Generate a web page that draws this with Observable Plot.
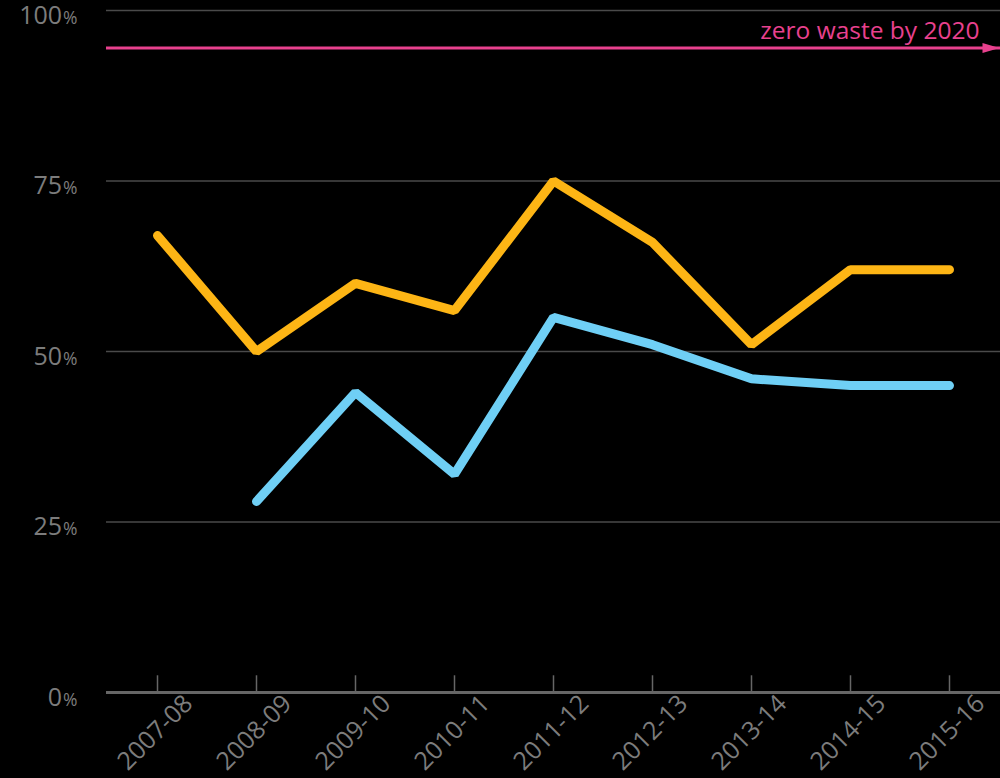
<!DOCTYPE html>
<html><head><meta charset="utf-8">
<script src="https://cdn.jsdelivr.net/npm/d3@7"></script>
<script src="https://cdn.jsdelivr.net/npm/@observablehq/plot@0.6"></script>
<style>
html,body{margin:0;padding:0;background:#000;}
#chart svg{display:block;}
</style>
</head><body><div id="chart"></div>
<script>
const years = ["2007-08","2008-09","2009-10","2010-11","2011-12","2012-13","2013-14","2014-15","2015-16"];
const orangeValues = [67,50,60,56,75,66,51,62,62];
const blueValues = [null,28,44,32,55,51,46,45,45];
const yTicks = [0,25,50,75,100];
const gridTicks = [25,50,75,100];
const targetValue = [94.5];
const targetLabel = "zero waste by 2020";

const orangeRows = years.map((year,i)=>({year, value: orangeValues[i]})).filter(d=>d.value!=null);
const blueRows = years.map((year,i)=>({year, value: blueValues[i]})).filter(d=>d.value!=null);

const arrowHead = {draw(ctx){ ctx.moveTo(-17,-5); ctx.lineTo(0,0); ctx.lineTo(-17,5); ctx.closePath(); }};

const gray = "#7c7c7c";
const pink = "#e8418e";

const chart = Plot.plot({
  width: 1000, height: 778,
  marginLeft: 106, marginRight: 0, marginTop: 10, marginBottom: 86,
  style: {background: "#000", fontFamily: "'Open Sans', 'Noto Sans', sans-serif", fontSize: "24px", color: gray},
  x: {type: "point", domain: years, padding: 0.5, axis: null},
  y: {domain: [0,100], label: null},
  marks: [
    Plot.ruleY(gridTicks, {stroke: "#4a4a4a", strokeWidth: 1.3}),
    Plot.ruleY([0], {stroke: "#666", strokeWidth: 3}),
    Plot.ruleX(years, {x: d=>d, y1: 0, y2: 2.45, stroke: "#666", strokeWidth: 1.5}),
    Plot.text(years, {x: d=>d, text: d=>d, frameAnchor: "bottom", rotate: -45, textAnchor: "end", lineAnchor: "middle", dx: 31, dy: 7, fill: gray, fontSize: 25}),
    Plot.axisY({ticks: yTicks, tickSize: 0, tickPadding: 29, tickFormat: d => d + "%", dy: 5, fill: gray, fontSize: 25, label: null}),
    Plot.ruleY(targetValue, {stroke: pink, strokeWidth: 3}),
    Plot.dot(targetValue, {y: d=>d, frameAnchor: "right", symbol: arrowHead, fill: pink, stroke: "none", dx: -1}),
    Plot.text(targetValue, {y: d=>d, text: () => targetLabel, frameAnchor: "right", textAnchor: "end", lineAnchor: "bottom", dx: -21, dy: -9, fill: pink, fontSize: 24.5}),
    Plot.line(orangeRows, {x: "year", y: "value", stroke: "#fdb515", strokeWidth: 9, strokeLinecap: "round", strokeLinejoin: "miter"}),
    Plot.line(blueRows, {x: "year", y: "value", stroke: "#6fcff5", strokeWidth: 9, strokeLinecap: "round", strokeLinejoin: "miter"})
  ]
});

// shrink the % sign in y tick labels
d3.select(chart).selectAll('g[aria-label="y-axis tick label"] text').each(function(){
  const t = this.textContent;
  if (t.endsWith("%")) {
    this.textContent = t.slice(0,-1);
    const ts = document.createElementNS("http://www.w3.org/2000/svg","tspan");
    ts.setAttribute("font-size","0.7em");
    ts.setAttribute("dx","1");
    ts.textContent = "%";
    this.appendChild(ts);
  }
});
document.getElementById("chart").appendChild(chart);
</script>
</body></html>
